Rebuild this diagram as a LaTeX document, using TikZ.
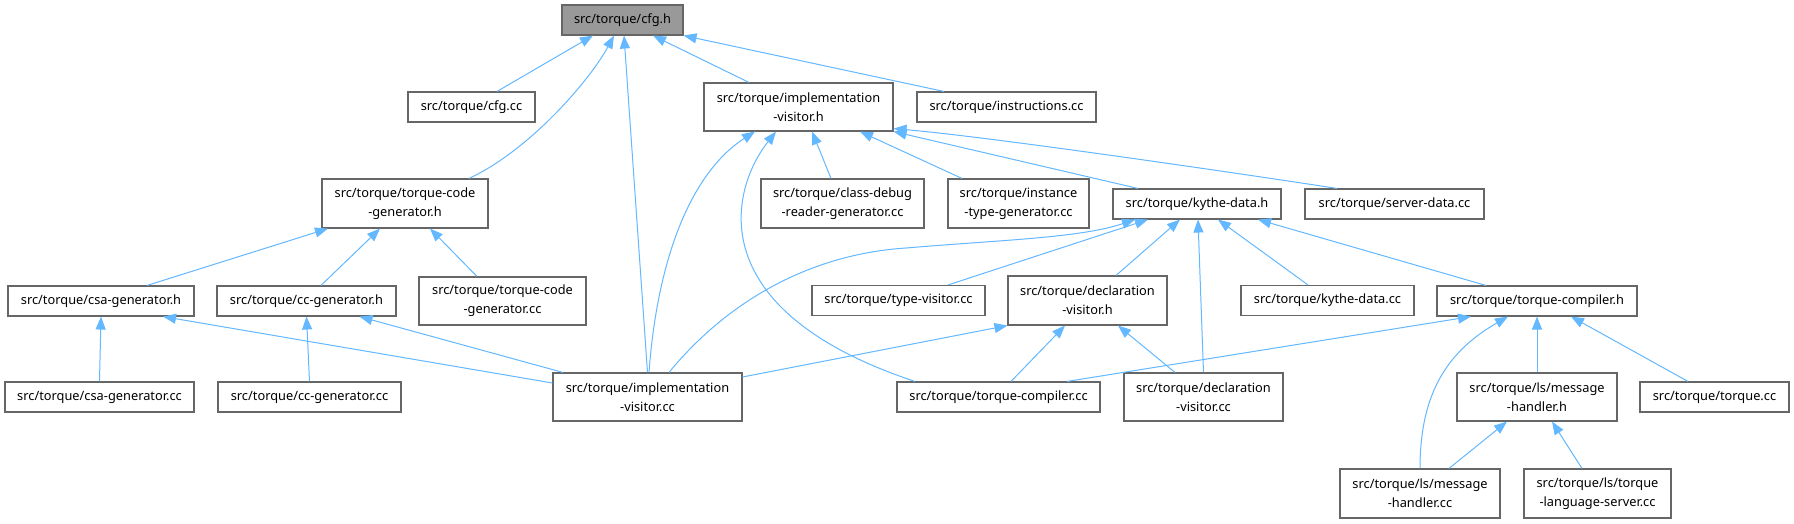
\documentclass[tikz,border=0pt]{standalone}
\usepackage{fontspec}
\setmainfont{Noto Sans}
\usetikzlibrary{arrows.meta}
\definecolor{edgecol}{HTML}{63B8FF}
\definecolor{boxborder}{HTML}{666666}
\definecolor{rootfill}{HTML}{999999}
\tikzset{
  box/.style={draw=boxborder, fill=white, line width=1.1pt, inner sep=0pt, align=center,
    font=\fontsize{12.8}{19}\selectfont},
  rootbox/.style={box, fill=rootfill},
  edge/.style={draw=edgecol, line width=1pt, -{Triangle[length=13pt,width=10pt]}}
}
\begin{document}
\begin{tikzpicture}[x=1pt,y=-1pt]
\fill[white] (0,0) rectangle (1794,524);
\useasboundingbox (0,0) rectangle (1794,524);
% row 0
\node[rootbox, minimum width=121pt, minimum height=30pt] (cfgh) at (622.5,20) {src/torque/cfg.h};
% row 1
\node[box, minimum width=127pt, minimum height=30pt] (cfgcc) at (471.5,107) {src/torque/cfg.cc};
\node[box, minimum width=189pt, minimum height=48pt] (ivh) at (798.5,107) {src/torque/implementation\\-visitor.h};
\node[box, minimum width=179pt, minimum height=30pt] (instr) at (1006.5,107) {src/torque/instructions.cc};
% row 2
\node[box, minimum width=166pt, minimum height=49pt] (tcgh) at (405,203.5) {src/torque/torque-code\\-generator.h};
\node[box, minimum width=163pt, minimum height=49pt] (cdrg) at (842.5,203.5) {src/torque/class-debug\\-reader-generator.cc};
\node[box, minimum width=141pt, minimum height=49pt] (itg) at (1018.5,203.5) {src/torque/instance\\-type-generator.cc};
\node[box, minimum width=168pt, minimum height=30pt] (kdh) at (1197,204) {src/torque/kythe-data.h};
\node[box, minimum width=179pt, minimum height=30pt] (sdcc) at (1394.5,204) {src/torque/server-data.cc};
% row 3
\node[box, minimum width=186pt, minimum height=30pt] (csah) at (101,301) {src/torque/csa-generator.h};
\node[box, minimum width=179pt, minimum height=30pt] (cch) at (306.5,301) {src/torque/cc-generator.h};
\node[box, minimum width=167pt, minimum height=48pt] (tcgcc) at (502.5,301) {src/torque/torque-code\\-generator.cc};
\node[box, minimum width=173pt, minimum height=30pt] (tvcc) at (898.5,300.5) {src/torque/type-visitor.cc};
\node[box, minimum width=159pt, minimum height=49pt] (dvh) at (1087.5,300.5) {src/torque/declaration\\-visitor.h};
\node[box, minimum width=173pt, minimum height=30pt] (kdcc) at (1327.5,300.5) {src/torque/kythe-data.cc};
\node[box, minimum width=200pt, minimum height=30pt] (tch) at (1537,301) {src/torque/torque-compiler.h};
% row 4
\node[box, minimum width=189pt, minimum height=30pt] (csacc) at (99.5,397) {src/torque/csa-generator.cc};
\node[box, minimum width=183pt, minimum height=30pt] (cccc) at (309.5,397) {src/torque/cc-generator.cc};
\node[box, minimum width=189pt, minimum height=48pt] (ivcc) at (647.5,397) {src/torque/implementation\\-visitor.cc};
\node[box, minimum width=203pt, minimum height=30pt] (tccc) at (998.5,397) {src/torque/torque-compiler.cc};
\node[box, minimum width=159pt, minimum height=48pt] (dvcc) at (1203.5,397) {src/torque/declaration\\-visitor.cc};
\node[box, minimum width=160pt, minimum height=48pt] (lsmhh) at (1537,397) {src/torque/ls/message\\-handler.h};
\node[box, minimum width=149pt, minimum height=30pt] (torcc) at (1714.5,397) {src/torque/torque.cc};
% row 5
\node[box, minimum width=160pt, minimum height=49pt] (lsmhcc) at (1420,493.5) {src/torque/ls/message\\-handler.cc};
\node[box, minimum width=147pt, minimum height=49pt] (lstls) at (1597.5,493.5) {src/torque/ls/torque\\-language-server.cc};
% edges to cfg.h
\draw[edge] ([xshift=25.5pt]cfgcc.north) -- ([xshift=-29.5pt]cfgh.south);
\draw[edge] ([xshift=64pt]tcgh.north) .. controls (530,150) and (590,80) .. ([xshift=-8.5pt]cfgh.south);
\draw[edge] (ivcc.north) -- ([xshift=1.5pt]cfgh.south);
\draw[edge] ([xshift=-49.5pt]ivh.north) -- ([xshift=30.5pt]cfgh.south);
\draw[edge] ([xshift=-62.5pt]instr.north) -- (cfgh.south east);
% edges to implementation-visitor.h
\draw[edge] ([xshift=1.5pt]ivcc.north) .. controls (658,250) and (695,170) .. ([xshift=-43.5pt]ivh.south);
\draw[edge] ([xshift=-83.5pt]tccc.north) .. controls (700,310) and (730,190) .. ([xshift=-22.5pt]ivh.south);
\draw[edge] ([xshift=-11.5pt]cdrg.north) -- ([xshift=13.5pt]ivh.south);
\draw[edge] ([xshift=-56.5pt]itg.north) -- ([xshift=61.5pt]ivh.south);
\draw[edge] ([xshift=-59pt]kdh.north) -- (ivh.south east);
\draw[edge] ([xshift=-57.5pt]sdcc.north) .. controls (1270,178) and (1000,138) .. ([yshift=3pt]ivh.south east);
% edges to kythe-data.h
\coordinate (ivkd) at (906,248);
\draw[edge] ([xshift=21.5pt]ivcc.north) .. controls (720,310) and (800,255) .. (ivkd)
  .. controls (1000,240) and (1080,238) .. ([xshift=-62pt]kdh.south);
\draw[edge] ([xshift=49.5pt]tvcc.north) -- ([xshift=-49pt]kdh.south);
\draw[edge] ([xshift=28.5pt]dvh.north) -- ([xshift=-17pt]kdh.south);
\draw[edge] (dvcc.north) -- ([xshift=1pt]kdh.south);
\draw[edge] ([xshift=-19.5pt]kdcc.north) -- ([xshift=21pt]kdh.south);
\draw[edge] ([xshift=-51pt]tch.north) -- ([xshift=61pt]kdh.south);
% edges to torque-code-generator.h
\draw[edge] ([xshift=46pt]csah.north) -- ([xshift=-77pt]tcgh.south);
\draw[edge] ([xshift=14.5pt]cch.north) -- ([xshift=-25pt]tcgh.south);
\draw[edge] ([xshift=-25.5pt]tcgcc.north) -- ([xshift=25pt]tcgh.south);
% edges to csa-generator.h / cc-generator.h
\draw[edge] (csacc.north) -- (csah.south);
\draw[edge] ([yshift=14pt]ivcc.west) -- ([xshift=62pt]csah.south);
\draw[edge] (cccc.north) -- (cch.south);
\draw[edge] ([xshift=-84.5pt]ivcc.north) -- ([xshift=53pt]cch.south);
% edges to declaration-visitor.h
\draw[edge] ([yshift=20pt]ivcc.east) -- (dvh.south west);
\draw[edge] ([xshift=12.5pt]tccc.north) -- ([xshift=-22.5pt]dvh.south);
\draw[edge] ([xshift=-28.5pt]dvcc.north) -- ([xshift=30.5pt]dvh.south);
% edges to torque-compiler.h
\draw[edge] ([xshift=68.5pt]tccc.north) -- ([xshift=-66pt]tch.south);
\draw[edge] (lsmhcc.north) .. controls (1420,390) and (1450,350) .. ([xshift=-29pt]tch.south);
\draw[edge] (lsmhh.north) -- (tch.south);
\draw[edge] ([xshift=-26.5pt]torcc.north) -- ([xshift=34pt]tch.south);
% edges to ls/message-handler.h
\draw[edge] ([xshift=29pt]lsmhcc.north) -- ([xshift=-30pt]lsmhh.south);
\draw[edge] ([xshift=-15.5pt]lstls.north) -- ([xshift=15pt]lsmhh.south);
\end{tikzpicture}
\end{document}
